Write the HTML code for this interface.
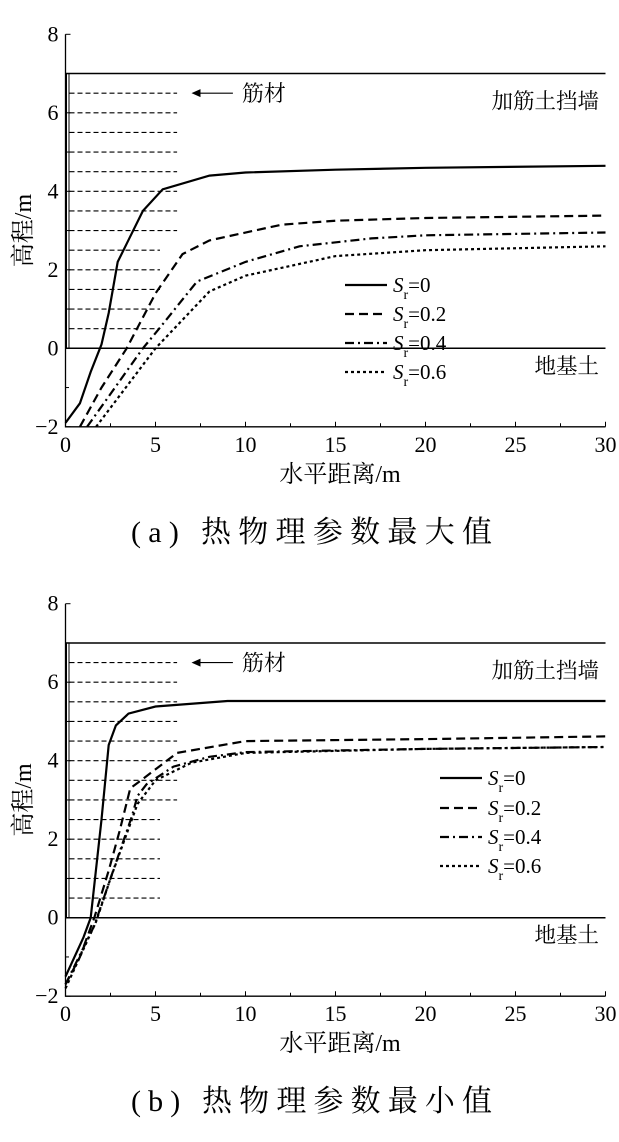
<!DOCTYPE html>
<html><head><meta charset="utf-8"><style>
body{margin:0;background:#fff}
svg text{font-family:"Liberation Serif","Noto Serif CJK SC",serif;fill:#000}
.cjk{font-family:"Liberation Serif","Noto Serif CJK SC","Noto Sans CJK SC",serif}
</style></head><body>
<svg id="chart" width="619" height="1137" viewBox="0 0 619 1137" xmlns="http://www.w3.org/2000/svg"></svg>
<script>
const xTicks=[0,5,10,15,20,25,30];
const yTicks=[-2,0,2,4,6,8];
const seriesNames=["0","0.2","0.4","0.6"];
const aS0x=[0,0.8,1.4,2,2.4,2.9,4.3,5.4,8,10,15,20,30];
const aS0y=[-1.9,-1.4,-0.6,0.1,0.9,2.2,3.5,4.05,4.4,4.48,4.55,4.6,4.65];
const aS1x=[0.8,2,3.4,5,6.5,8,12,15,20,30];
const aS1y=[-2,-1,0,1.4,2.4,2.75,3.15,3.25,3.32,3.38];
const aS2x=[1.2,4.3,5.2,7.3,10,13,17,20,30];
const aS2y=[-2,0,0.5,1.7,2.2,2.6,2.8,2.88,2.95];
const aS3x=[1.7,5,8,10,15,20,30];
const aS3y=[-2,0,1.45,1.85,2.35,2.5,2.6];
const bS0x=[0,1,1.4,2,2.4,2.8,3.5,5,9,30];
const bS0y=[-1.5,-0.5,0,2.5,4.4,4.9,5.2,5.38,5.52,5.52];
const bS1x=[0,0.8,1.6,2.4,3,3.6,4.2,6.2,10,20,30];
const bS1y=[-1.7,-1,0,1.2,2.2,3.3,3.5,4.2,4.5,4.55,4.62];
const bS2x=[0,1.6,2.5,3.7,4,4.5,6,8,10,20,30];
const bS2y=[-1.7,-0.2,1,2.6,3.1,3.4,3.85,4.1,4.22,4.3,4.35];
const bS3x=[0,1.7,2.5,4,5,7,10,20,30];
const bS3y=[-1.8,-0.1,1,2.9,3.5,3.95,4.2,4.3,4.35];
const reinfLong=[6.5,6,5.5,5,4.5,4,3.5,3];
const reinfShort=[2.5,2,1.5,1,0.5];

const NS="http://www.w3.org/2000/svg";
const svg=document.getElementById('chart');
function mk(tag,attrs,parent){const e=document.createElementNS(NS,tag);for(const k in attrs)e.setAttribute(k,attrs[k]);(parent||svg).appendChild(e);return e;}
const dashes=["","9,5","9,4,2,4","3,3"];

function panel(id,y0,legX,legY,caption,xs,ys){
  const g=mk('g',{});
  
  
  const X=v=>65.5+v*18;
  const Y=v=>y0-v*39.25;
  const ax=mk('path',{d:`M${X(0)},${Y(8)}V${Y(-2)}H${X(30)}`,stroke:'#000','stroke-width':1.3,fill:'none'},g);
  
  for(let v=-2;v<=8;v++){mk('line',{x1:X(0),x2:X(0)+(v%2===0?5:3.5),y1:Y(v),y2:Y(v),stroke:'#000','stroke-width':1},g);}
  for(let v=0;v<=30;v+=2.5){mk('line',{x1:X(v),x2:X(v),y1:Y(-2),y2:Y(-2)-(v%5===0?5:3.5),stroke:'#000','stroke-width':1},g);}
  yTicks.forEach(v=>{const t=mk('text',{x:X(0)-7,y:Y(v)+7,'text-anchor':'end','font-size':22},g);t.textContent=v<0?'\u2212'+(-v):v;
    });
  xTicks.forEach(v=>{const t=mk('text',{x:X(v),y:Y(-2)+25,'text-anchor':'middle','font-size':22},g);t.textContent=v;
    });
  mk('rect',{x:X(0)+1,y:Y(7),width:2.5,height:Y(0)-Y(7),fill:'none',stroke:'#000','stroke-width':1},g);
  mk('line',{x1:X(0),x2:X(30),y1:Y(7),y2:Y(7),stroke:'#000','stroke-width':1.5},g);
  mk('line',{x1:X(0),x2:X(30),y1:Y(0),y2:Y(0),stroke:'#000','stroke-width':1.5},g);
  reinfLong.forEach(v=>{const l=mk('line',{x1:X(0)+4,x2:X(6.2),y1:Y(v),y2:Y(v),stroke:'#000','stroke-width':1.2,'stroke-dasharray':'5,3'},g);});
  reinfShort.forEach(v=>{const l=mk('line',{x1:X(0)+4,x2:X(5.25),y1:Y(v),y2:Y(v),stroke:'#000','stroke-width':1.2,'stroke-dasharray':'5,3'},g);});
  mk('line',{x1:X(7.2),x2:X(9.3),y1:Y(6.5),y2:Y(6.5),stroke:'#000','stroke-width':1.2},g);
  mk('path',{d:`M${X(7)},${Y(6.5)}l9,-4v8z`,fill:'#000'},g);
  let t=mk('text',{x:X(9.8),y:Y(6.5)+8,'font-size':22,class:'cjk'},g);t.textContent='筋材';
  t=mk('text',{x:599,y:Y(7)+35,'text-anchor':'end','font-size':21.5,class:'cjk'},g);t.textContent='加筋土挡墙';
  t=mk('text',{x:599,y:Y(0)+25,'text-anchor':'end','font-size':21.5,class:'cjk'},g);t.textContent='地基土';
  for(let s=0;s<4;s++){
    const d=xs[s].map((v,i)=>(i?'L':'M')+X(v).toFixed(1)+','+Y(ys[s][i]).toFixed(1)).join('');
    const p=mk('path',{d:d,fill:'none',stroke:'#000','stroke-width':2.2,'stroke-dasharray':dashes[s]},g);
    
    const ly=legY[s];
    const ll=mk('line',{x1:legX,x2:legX+42,y1:ly,y2:ly,stroke:'#000','stroke-width':2.2,'stroke-dasharray':dashes[s]},g);
    
    const lt=mk('text',{x:legX+48,y:ly+7,'font-size':21},g);
    
    lt.innerHTML='<tspan font-style="italic">S</tspan><tspan font-size="14" dy="7">r</tspan><tspan dy="-7">='+seriesNames[s]+'</tspan>';
  }
  t=mk('text',{x:340,y:Y(-2)+55,'text-anchor':'middle','font-size':24,class:'cjk'},g);t.textContent='水平距离/m';
  t=mk('text',{x:0,y:0,'text-anchor':'middle','font-size':24,class:'cjk',transform:`translate(31,${Y(3)}) rotate(-90)`},g);t.textContent='高程/m';
  t=mk('text',{x:131,y:Y(-2)+115,'font-size':30,class:'cjk',textLength:361,lengthAdjust:'spacing'},g);t.textContent='(a) 热物理参数最大值'.replace('(a)',caption.slice(0,3));t.textContent=caption;
}
panel('panel-a',348.3,345,[285,314,343,372],'(a) 热物理参数最大值',[aS0x,aS1x,aS2x,aS3x],[aS0y,aS1y,aS2y,aS3y]);
panel('panel-b',917.7,440,[778,808,837,866],'(b) 热物理参数最小值',[bS0x,bS1x,bS2x,bS3x],[bS0y,bS1y,bS2y,bS3y]);
</script>
</body></html>
